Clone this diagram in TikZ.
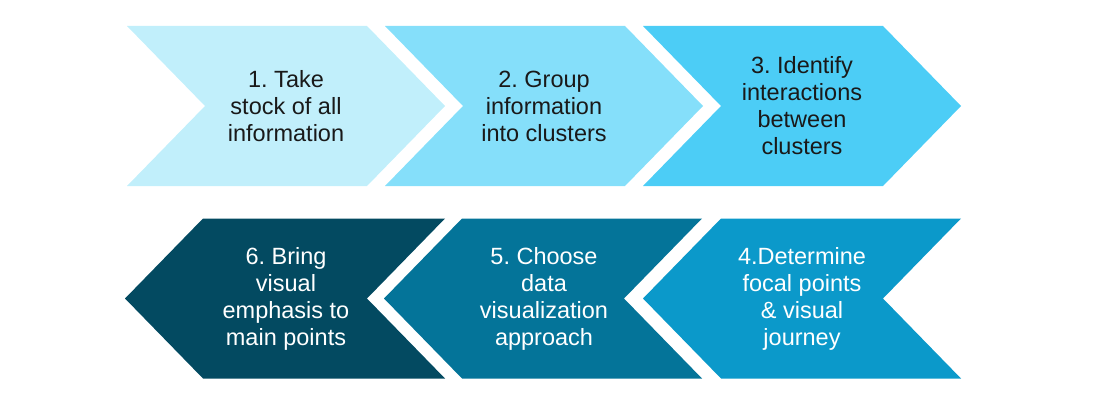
\documentclass[tikz,border=0pt]{standalone}
\usepackage{fontspec}
\setmainfont{Liberation Sans}
\frenchspacing

\definecolor{stepA}{RGB}{193,239,251}
\definecolor{stepB}{RGB}{133,223,250}
\definecolor{stepC}{RGB}{76,205,246}
\definecolor{stepD}{RGB}{11,153,202}
\definecolor{stepE}{RGB}{4,116,153}
\definecolor{stepF}{RGB}{3,74,97}

\begin{document}
\begin{tikzpicture}[
    x=1pt, y=-1pt,
    every node/.style={font=\fontsize{23.5}{27}\selectfont},
    label/.style={align=center, inner sep=0pt},
    fwd/.style={label, text=black!90},
    bwd/.style={label, text=white}
]
\useasboundingbox (0,0) rectangle (1112,420);
% ----- Top row: arrows pointing right -----
\fill[stepA] (127,26) -- (367,26) -- (445,106) -- (367,186) -- (127,186) -- (205,106) -- cycle;
\fill[stepB] (385,26) -- (625,26) -- (703,106) -- (625,186) -- (385,186) -- (463,106) -- cycle;
\fill[stepC] (643,26) -- (883,26) -- (961,106) -- (883,186) -- (643,186) -- (721,106) -- cycle;
\node[fwd] (take) at (286,106) {1. Take\\stock of all\\information};
\node[fwd] (group) at (544,106) {2. Group\\information\\into clusters};
\node[fwd] (ident) at (802,106) {3. Identify\\interactions\\between\\clusters};
% ----- Bottom row: arrows pointing left -----
\fill[stepD] (643,298.5) -- (721,218.5) -- (961,218.5) -- (883,298.5) -- (961,378.5) -- (721,378.5) -- cycle;
\fill[stepE] (384,298.5) -- (462,218.5) -- (702,218.5) -- (624,298.5) -- (702,378.5) -- (462,378.5) -- cycle;
\fill[stepF] (125,298.5) -- (203,218.5) -- (445,218.5) -- (367,298.5) -- (445,378.5) -- (203,378.5) -- cycle;
\node[bwd] (focal) at (802,298.5) {4.Determine\\focal points\\\& visual\\journey};
\node[bwd] (choose) at (544,298.5) {5. Choose\\data\\visualization\\approach};
\node[bwd] (bring) at (286,298.5) {6. Bring\\visual\\emphasis to\\main points};
\end{tikzpicture}
\end{document}
